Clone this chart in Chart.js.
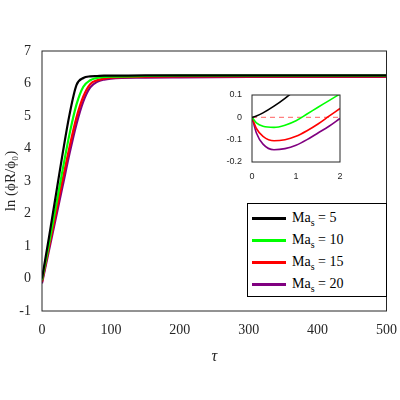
<!DOCTYPE html>
<html><head><meta charset="utf-8">
<script src="https://cdn.jsdelivr.net/npm/chart.js@4"></script>
<style>
body{margin:0;background:#fff;}
#wrap{position:relative;width:400px;height:400px;}
#inset{position:absolute;left:222px;top:85px;}
#leg{position:absolute;left:247px;top:203px;width:140px;height:94px;border:1px solid #000;background:#fff;box-sizing:border-box;font-family:'Liberation Serif',serif;font-size:14px;padding:3px 0 0 4px;}
#leg div{height:22px;line-height:22px;}
#leg span.l{display:inline-block;width:34px;height:3px;vertical-align:middle;margin-right:6px;}
</style></head><body>
<div id="wrap">
<canvas id="main" width="400" height="400"></canvas>
<canvas id="inset" width="125" height="100"></canvas>
<div id="leg"></div>
</div>
<script>
// dados
const series = ['Ma_s = 5', 'Ma_s = 10', 'Ma_s = 15', 'Ma_s = 20'];
const masVals = [5, 10, 15, 20];
const cores = ['#000000', '#00ff00', '#ff0000', '#800080'];
const tau = [0, 10, 20, 30, 40, 50, 60, 70, 80, 90, 100, 150, 200, 300, 500];
const ma5  = [0, 1.25, 2.55, 3.85, 5.05, 5.95, 6.17, 6.22, 6.23, 6.24, 6.24, 6.25, 6.25, 6.25, 6.25];
const ma10 = [-0.05, 1.05, 2.2, 3.35, 4.45, 5.35, 5.9, 6.1, 6.17, 6.2, 6.21, 6.23, 6.24, 6.24, 6.24];
const ma15 = [-0.1, 0.95, 2.0, 3.05, 4.05, 4.95, 5.6, 5.98, 6.1, 6.15, 6.18, 6.21, 6.22, 6.22, 6.22];
const ma20 = [-0.15, 0.85, 1.85, 2.85, 3.85, 4.75, 5.45, 5.88, 6.05, 6.12, 6.15, 6.18, 6.19, 6.2, 6.2];
// inset
const tauIn = [0, 0.1, 0.25, 0.5, 0.75, 1, 1.25, 1.5, 1.75, 2];
const in5  = [0, 0.006, 0.02, 0.05, 0.085, 0.125, 0.165, 0.2, 0.24, 0.28];
const in10 = [0, -0.025, -0.04, -0.045, -0.035, -0.015, 0.015, 0.045, 0.075, 0.105];
const in15 = [0, -0.05, -0.085, -0.105, -0.1, -0.085, -0.06, -0.03, 0.005, 0.04];
const in20 = [0, -0.07, -0.12, -0.145, -0.14, -0.125, -0.1, -0.07, -0.04, -0.005];

const fonte = {family: "'Liberation Serif', serif", size: 14};
const caixa = {
  id: 'caixa',
  afterDraw(c){
    const a = c.chartArea, g = c.ctx;
    g.save(); g.strokeStyle = '#262626'; g.lineWidth = 1;
    g.strokeRect(a.left, a.top, a.right - a.left, a.bottom - a.top);
    g.restore();
  }
};
function pts(xs, ys){ return xs.map((x, i) => ({x: x, y: ys[i]})); }
function ds(xs, lista, w){
  return lista.map((ys, i) => ({data: pts(xs, ys), borderColor: cores[i], borderWidth: w,
    pointRadius: 0, showLine: true, cubicInterpolationMode: 'monotone', fill: false}));
}

new Chart(document.getElementById('main'), {
  type: 'scatter',
  data: {datasets: ds(tau, [ma5, ma10, ma15, ma20], 2.2)},
  plugins: [caixa],
  options: {
    responsive: false, animation: false,
    layout: {padding: {top: 51, right: 12, bottom: 30, left: 0}},
    plugins: {legend: {display: false}, tooltip: {enabled: false}},
    scales: {
      x: {type: 'linear', min: 0, max: 500, grid: {display: false}, border: {display: false},
        ticks: {stepSize: 100, color: '#262626', font: fonte},
        title: {display: true, text: 'τ', color: '#262626', font: {family: fonte.family, size: 16, style: 'italic'}},
        afterFit(s){ s.height = 59; }},
      y: {min: -1, max: 7, grid: {display: false}, border: {display: false},
        ticks: {stepSize: 1, color: '#262626', font: fonte},
        title: {display: true, text: 'ln (ϕR/ϕ₀)', color: '#262626', font: {family: fonte.family, size: 15}, padding: 2},
        afterFit(s){ s.width = 42; }}
    }
  }
});

new Chart(document.getElementById('inset'), {
  type: 'scatter',
  data: {datasets: ds(tauIn, [in5, in10, in15, in20], 1.6).concat([{
    data: [{x: 0, y: 0}, {x: 2, y: 0}], borderColor: '#ff8080', borderWidth: 1.3, borderDash: [5, 4],
    pointRadius: 0, showLine: true}])},
  plugins: [caixa],
  options: {
    responsive: false, animation: false,
    layout: {padding: {top: 10, right: 7, bottom: 0, left: 0}},
    plugins: {legend: {display: false}, tooltip: {enabled: false}},
    scales: {
      x: {type: 'linear', min: 0, max: 2, grid: {display: false}, border: {display: false},
        ticks: {stepSize: 1, color: '#262626', font: {family: 'Arial', size: 9}, padding: 1},
        afterFit(s){ s.height = 23; }},
      y: {min: -0.2, max: 0.1, grid: {display: false}, border: {display: false},
        ticks: {stepSize: 0.1, color: '#262626', font: {family: 'Arial', size: 9}, padding: 2,
          callback: v => Math.abs(v) < 1e-9 ? '0' : String(Math.round(v * 10) / 10)},
        afterFit(s){ s.width = 30; }}
    }
  }
});

// legenda
const leg = document.getElementById('leg');
series.forEach((s, i) => {
  const d = document.createElement('div');
  d.innerHTML = '<span class="l" style="background:' + cores[i] + '"></span>Ma<sub style="font-size:10px">s</sub> = ' + masVals[i];
  leg.appendChild(d);
});
</script>
</body></html>
